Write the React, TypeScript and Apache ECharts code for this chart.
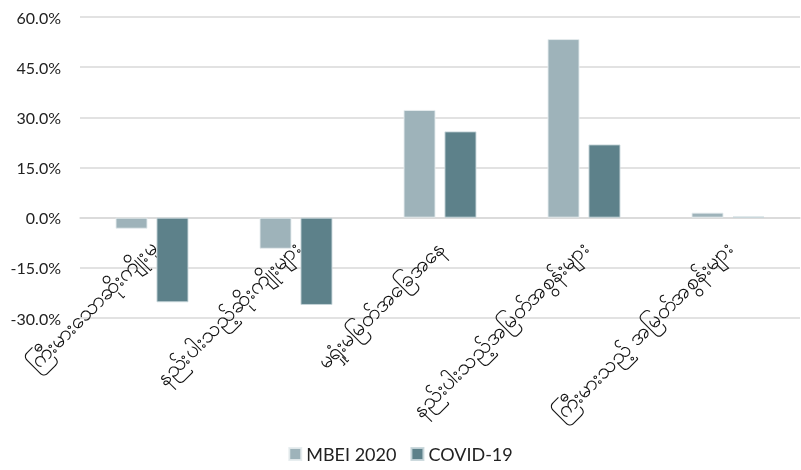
import React, { useEffect, useRef } from "react";
import * as echarts from "echarts";

const categories = [
  "ကြီးမားသောဆိုးကျိုးမှ",
  "နည်းပါးသည့်ဆိုးကျိုးများ",
  "မရှုံးမမြတ်အခြေအနေ",
  "နည်းပါးသည့်အမြတ်အစွန်းများ",
  "ကြီးမားသည့် အမြတ်အစွန်းများ",
];
const seriesNames = ["MBEI 2020", "COVID-19"];
const mbei2020 = [-3.3, -9.3, 32.2, 53.4, 1.5];
const covid19 = [-25.3, -26.1, 25.8, 21.9, 0.3];
const colors = ["#9EB3BA", "#5D818A"];

export default function App() {
  const ref = useRef<HTMLDivElement>(null);
  useEffect(() => {
    if (!ref.current) return;
    const chart = echarts.init(ref.current, undefined, { renderer: "svg" });
    chart.setOption({
      animation: false,
      textStyle: { fontFamily: "Lato, 'Noto Sans', sans-serif" },
      grid: { left: 80, right: 1, top: 17, bottom: 152, containLabel: false },
      legend: {
        bottom: 2,
        left: "center",
        itemWidth: 12,
        itemHeight: 12,
        itemGap: 14,
        icon: "rect",
        textStyle: { fontSize: 18, color: "#222", fontFamily: "Lato, sans-serif" },
        data: seriesNames,
      },
      xAxis: {
        type: "category",
        data: categories,
        offset: -100,
        axisLine: { onZero: false, lineStyle: { color: "#d9d9d9", width: 1.5 } },
        axisTick: { show: false },
        axisLabel: {
          rotate: 45,
          interval: 0,
          margin: 26,
          fontSize: 22,
          color: "#111",
        },
      },
      yAxis: {
        type: "value",
        min: -30,
        max: 60,
        interval: 15,
        axisLine: { show: false },
        axisTick: { show: false },
        splitLine: { lineStyle: { color: "#d9d9d9", width: 1.5 } },
        axisLabel: {
          formatter: (v: number) => v.toFixed(1) + "%",
          fontSize: 16,
          color: "#222",
          margin: 19,
        },
      },
      series: [
        {
          name: seriesNames[0],
          type: "bar",
          data: mbei2020,
          barWidth: 32,
          barGap: "28%",
          itemStyle: { color: colors[0], borderColor: "rgba(230,236,238,0.9)", borderWidth: 1 },
        },
        {
          name: seriesNames[1],
          type: "bar",
          data: covid19,
          barWidth: 32,
          barGap: "28%",
          itemStyle: { color: colors[1], borderColor: "rgba(200,214,218,0.9)", borderWidth: 1 },
        },
      ],
    });
    return () => chart.dispose();
  }, []);
  return (
    <div
      ref={ref}
      style={{ position: "fixed", left: 0, top: 0, width: 801, height: 470 }}
    />
  );
}
